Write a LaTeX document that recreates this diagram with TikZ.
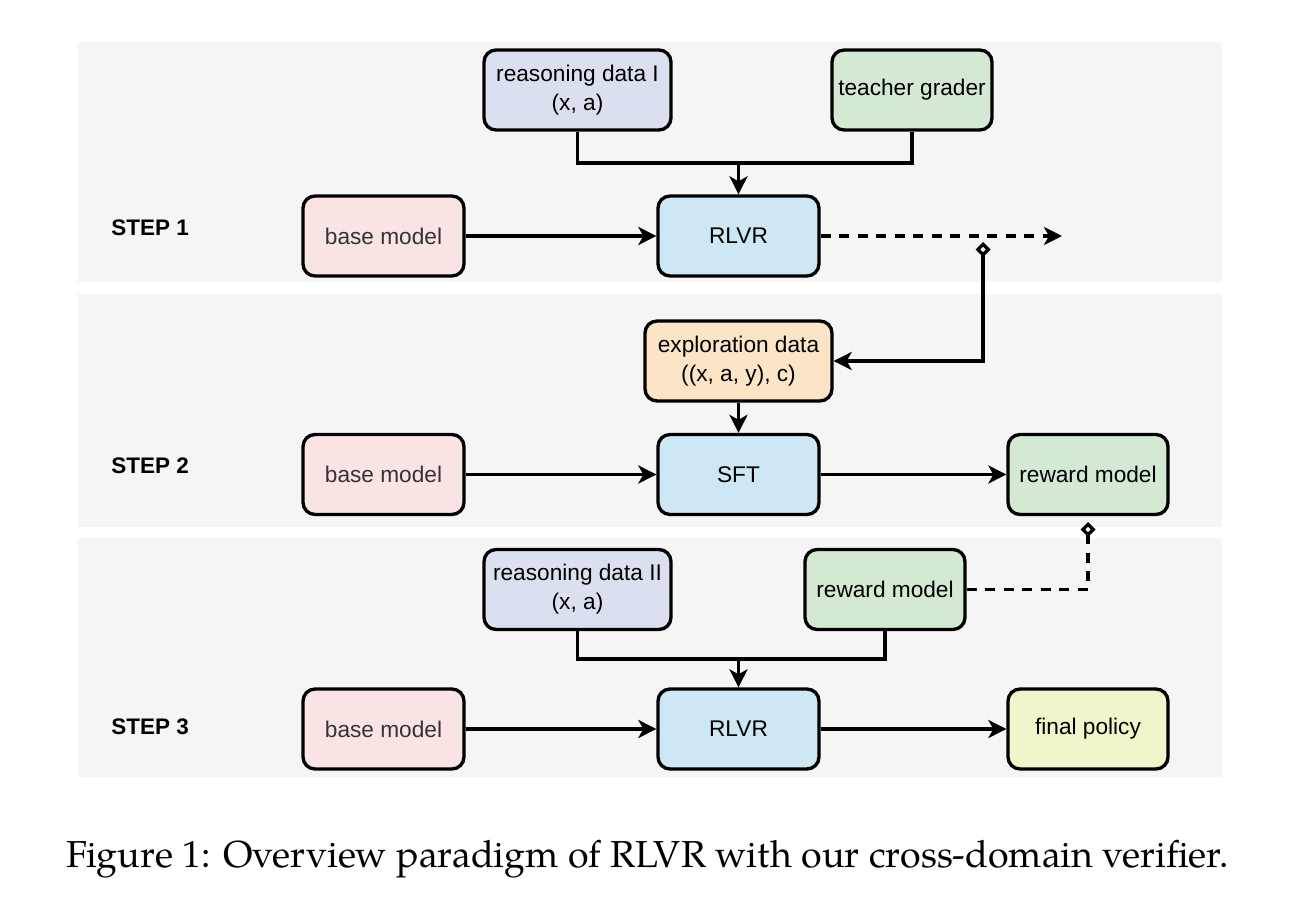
\documentclass[tikz,border=0pt]{standalone}
\usepackage{fontspec}
\setsansfont{Liberation Sans}
\newfontfamily\capfont{TeX Gyre Pagella}
\usetikzlibrary{arrows.meta}
\definecolor{panelbg}{HTML}{F5F5F5}
\definecolor{basefill}{HTML}{FAE3E3}
\definecolor{datafill}{HTML}{DAE0EF}
\definecolor{greenfill}{HTML}{D5E8D4}
\definecolor{bluefill}{HTML}{CDE7F4}
\definecolor{orangefill}{HTML}{FCE4C6}
\definecolor{yellowfill}{HTML}{F2F4CA}
\definecolor{basetext}{HTML}{333333}
\tikzset{
  box/.style={draw=black, line width=1.9pt, rounded corners=0.24cm, align=center,
    minimum height=1.6cm, inner sep=0pt,
    font=\sffamily\fontsize{12.9pt}{16.5pt}\selectfont},
  w161/.style={minimum width=3.22cm},
  w187/.style={minimum width=3.74cm},
  w160/.style={minimum width=3.2cm},
  steplabel/.style={anchor=west, inner sep=0pt, font=\sffamily\bfseries\fontsize{12.8pt}{15pt}\selectfont},
  conn/.style={line width=1.9pt},
  arr/.style={conn, -{Stealth[length=0.36cm, width=0.36cm, inset=0.1cm]}},
  dashline/.style={conn, dash pattern=on 0.2cm off 0.17cm},
  panel/.style={fill=panelbg, draw=none}
}
\begin{document}
\begin{tikzpicture}[x=0.02cm, y=-0.02cm]
\useasboundingbox (0,0) rectangle (1314,922);
\fill[white] (0,0) rectangle (1314,922);
% panels
\path[panel] (78,42) rectangle (1222,281.5);
\path[panel] (78,294) rectangle (1222,526.5);
\path[panel] (78,538) rectangle (1222,777);

% step labels
\node[steplabel] (s1) at (111,228) {STEP 1};
\node[steplabel] (s2) at (111,466) {STEP 2};
\node[steplabel] (s3) at (111,727) {STEP 3};

% step 1
\node[box, w187, fill=datafill] (rd1) at (577.5,90) {reasoning data I\\(x, a)};
\node[box, w160, fill=greenfill] (tg) at (912,90) {teacher grader};
\node[box, w161, fill=basefill, text=basetext] (bm1) at (383.5,236) {base model};
\node[box, w161, fill=bluefill] (rl1) at (738.5,236) {RLVR};

% step 2
\node[box, w187, fill=orangefill] (ex) at (738.5,361) {exploration data\\((x, a, y), c)};
\node[box, w161, fill=basefill, text=basetext] (bm2) at (383.5,474.5) {base model};
\node[box, w161, fill=bluefill] (sft) at (738.5,474.5) {SFT};
\node[box, w160, fill=greenfill] (rm2) at (1088,474.5) {reward model};

% step 3
\node[box, w187, fill=datafill] (rd2) at (577.5,589.5) {reasoning data II\\(x, a)};
\node[box, w160, fill=greenfill] (rm3) at (885,589.5) {reward model};
\node[box, w161, fill=basefill, text=basetext] (bm3) at (383.5,729) {base model};
\node[box, w161, fill=bluefill] (rl3) at (738.5,729) {RLVR};
\node[box, w160, fill=yellowfill] (fp) at (1088,729) {final policy};

% coordinates
\coordinate (j1) at (738.5,163);
\coordinate (e1) at (1062,236);
\coordinate (d1) at (983,242);
\coordinate (j3) at (738.5,659);
\coordinate (d3) at (1088,522);

% connectors step 1
\draw[conn] (rd1.south) |- (j1);
\draw[conn] (tg.south) |- (j1);
\draw[arr] (j1) -- (rl1.north);
\draw[arr] (bm1.east) -- (rl1.west);
\draw[dashline, -{Stealth[length=0.36cm, width=0.36cm, inset=0.1cm]}] (rl1.east) -- (e1);
\draw[conn, {Diamond[open, length=0.3cm, width=0.3cm]}-{Stealth[length=0.36cm, width=0.36cm, inset=0.1cm]}] (d1) |- (ex.east);

% connectors step 2
\draw[arr] (ex.south) -- (sft.north);
\draw[arr] (bm2.east) -- (sft.west);
\draw[arr] (sft.east) -- (rm2.west);

% connectors step 3
\draw[conn] (rd2.south) |- (j3);
\draw[conn] (rm3.south) |- (j3);
\draw[arr] (j3) -- (rl3.north);
\draw[arr] (bm3.east) -- (rl3.west);
\draw[arr] (rl3.east) -- (fp.west);
\draw[dashline, -{Diamond[open, length=0.3cm, width=0.3cm]}] (rm3.east) -| (d3);

% caption
\node[anchor=base, inner sep=0pt] (cap) at (647.5,867) {\resizebox{23.26cm}{!}{\capfont Figure 1: Overview paradigm of RLVR with our cross-domain verifier.}};
\end{tikzpicture}
\end{document}
